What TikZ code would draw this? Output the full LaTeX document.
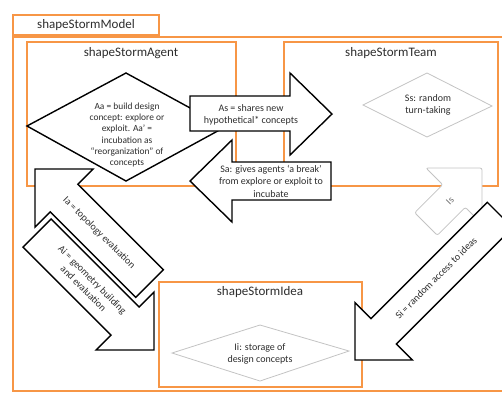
\documentclass[tikz,border=0pt]{standalone}
\usepackage{fontspec}
\setmainfont{Carlito}
\usepackage{tikz}

\definecolor{stormorange}{RGB}{247,150,70}
\definecolor{stormgray}{RGB}{195,195,195}
\definecolor{stormtext}{RGB}{45,45,45}

\begin{document}
\begin{tikzpicture}[x=1pt, y=-1pt,
            every node/.style = {align=center, text=stormtext, inner sep=0pt},
            boxtitle/.style = {font=\fontsize{13}{15}\selectfont},
            smalltext/.style = {font=\fontsize{10}{12.5}\selectfont},
            outerbox/.style = {draw=stormorange, line width=2pt},
            innerbox/.style = {draw=stormorange, line width=1.3pt},
            bigarrow/.style = {draw=black, fill=white, line width=1.4pt, line join=miter},
            lightarrow/.style = {draw=stormgray, fill=white, line width=0.8pt, rounded corners=2pt},
            lightdiamond/.style = {draw=stormgray, line width=0.8pt}]
	\useasboundingbox (0,0) rectangle (502,392);
	\clip (0,0) rectangle (502,392);

	% model, agent, team and idea boxes
	\draw[outerbox] (13,15) rectangle (159,35);
	\draw[outerbox] (13,37) rectangle (520,391);
	\draw[innerbox] (27,42) rectangle (236,186);
	\draw[innerbox] (284,42) rectangle (498,186);
	\draw[innerbox] (159,282) rectangle (362,387);

	\node[boxtitle] (model) at (86,25) {shapeStormModel};
	\node[boxtitle] (agent) at (131,53) {shapeStormAgent};
	\node[boxtitle] (team) at (391,53) {shapeStormTeam};
	\node[boxtitle] (idea) at (260,292) {shapeStormIdea};

	% decisions
	\draw[bigarrow] (27,126) -- (126,73) -- (225,127) -- (126,181) -- cycle;
	\node[font=\fontsize{9.4}{11.2}\selectfont] (aa) at (127,135)
		{Aa = build design\\concept: explore or\\exploit. Aa' =\\incubation as\\``reorganization'' of\\concepts};
	\draw[lightdiamond] (363,105) -- (427,73) -- (492,106) -- (427,137) -- cycle;
	\node[smalltext] (ss) at (428,105) {Ss: random\\turn-taking};
	\draw[lightdiamond] (172,353) -- (260,325) -- (349,351) -- (260,381) -- cycle;
	\node[smalltext] (ii) at (260,354) {Ii: storage of\\design concepts};

	% block arrows
	\draw[bigarrow] (35,169) -- (93,169) -- (77.8,184.2) -- (163.3,269.7) -- (135.7,297.3) -- (50.2,211.8) -- (35,227) -- cycle;
	\node[smalltext, rotate=-45] (ia) at (99,233) {Ia = topology evaluation};
	\draw[bigarrow] (154,350) -- (154,292) -- (139.1,306.9) -- (51.1,218.9) -- (22.9,247.1) -- (110.9,335.1) -- (96,350) -- cycle;
	\node[smalltext, rotate=-45] (ai) at (88,284) {Ai = geometry building\\and evaluation};

	\draw[bigarrow] (190,96) -- (290,96) -- (290,73) -- (332,114) -- (290,155) -- (290,131) -- (190,131) -- cycle;
	\node[smalltext] (as) at (251,115) {As = shares new\\hypothetical* concepts};
	\draw[bigarrow] (331,162) -- (232,162) -- (232,140) -- (190,181) -- (232,222) -- (232,200) -- (331,200) -- cycle;
	\node[smalltext] (sa) at (271,181) {Sa: gives agents `a break'\\from explore or exploit to\\incubate};

	\draw[lightarrow] (482,168) -- (482,224) -- (465.3,207.3) -- (437.3,235.3) -- (414.7,212.7) -- (442.7,184.7) -- (426,168) -- cycle;
	\node[smalltext, rotate=45, text=stormtext!70] (is) at (450,201) {Is};
	\draw[bigarrow] (355,360) -- (355,302.6) -- (371,318.6) -- (487.3,202.3) -- (512.7,227.7) -- (396.4,344) -- (412.4,360) -- cycle;
	\node[smalltext, rotate=45] (si) at (436,278) {Si = random access to ideas};
\end{tikzpicture}
\end{document}
